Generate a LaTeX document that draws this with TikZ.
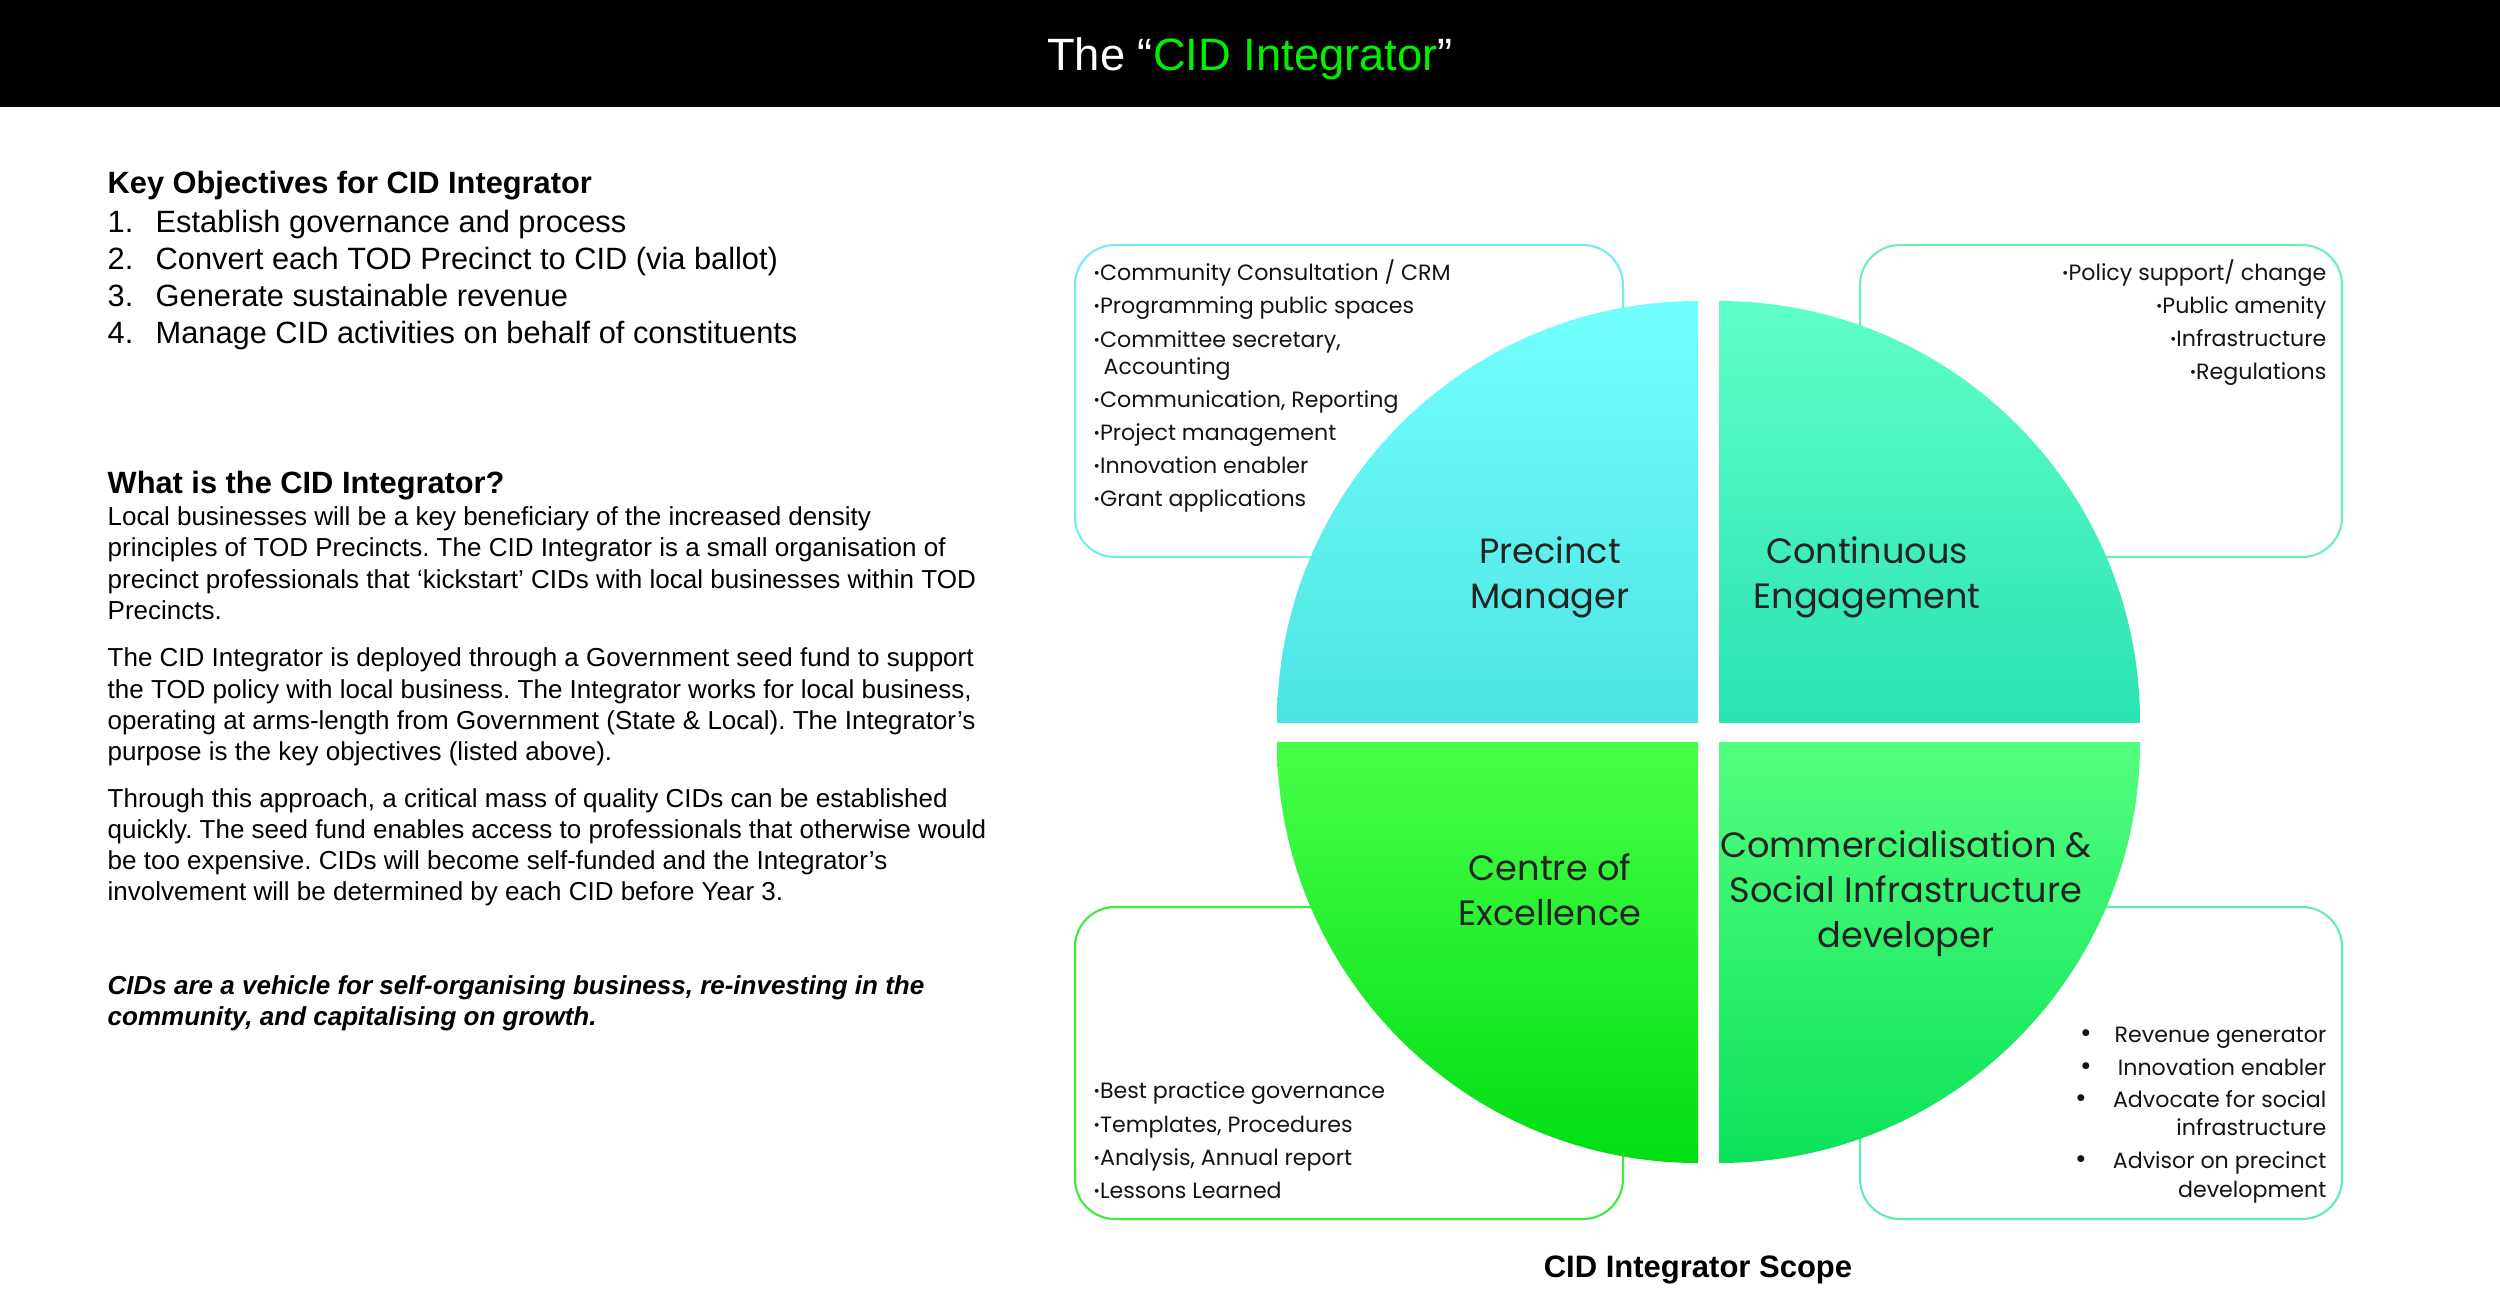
\documentclass[tikz,border=0pt]{standalone}
\usepackage{fontspec}
\setmainfont{Liberation Sans}
\newfontfamily\popp{Poppins}
\definecolor{titlegreen}{RGB}{0,240,0}
\definecolor{tlTop}{RGB}{115,255,255}
\definecolor{tlBot}{RGB}{75,228,224}
\definecolor{trTop}{RGB}{95,255,200}
\definecolor{trBot}{RGB}{42,226,178}
\definecolor{blTop}{RGB}{72,255,72}
\definecolor{blMid}{RGB}{0,242,0}
\definecolor{blBot}{RGB}{0,222,20}
\definecolor{brTop}{RGB}{82,255,125}
\definecolor{brBot}{RGB}{12,225,90}
\definecolor{tlLine}{RGB}{120,235,235}
\definecolor{trLine}{RGB}{110,240,180}
\definecolor{blLine}{RGB}{60,235,60}
\definecolor{brLine}{RGB}{100,235,175}
\definecolor{qtext}{RGB}{35,35,35}
\definecolor{btext}{RGB}{20,20,20}
\newcommand\sbul{\raisebox{0.08em}{\scalebox{0.7}{•}}}
\frenchspacing
\tikzset{
  lefthead/.style={anchor=base west, inner sep=0pt, font=\fontsize{8.76pt}{10pt}\selectfont\bfseries},
  leftlist/.style={anchor=base west, inner sep=0pt, font=\fontsize{8.76pt}{10pt}\selectfont},
  leftpara/.style={anchor=base west, inner sep=0pt, font=\fontsize{7.4pt}{9pt}\selectfont},
  leftital/.style={anchor=base west, inner sep=0pt, font=\fontsize{7.4pt}{9pt}\selectfont\bfseries\itshape},
  qlabel/.style={anchor=base, inner sep=0pt, text=qtext, font=\fontsize{10pt}{12pt}\selectfont\popp},
  boxtxtL/.style={anchor=base west, inner sep=0pt, text=btext, font=\fontsize{6.3pt}{7pt}\selectfont\popp},
  boxtxtR/.style={anchor=base east, inner sep=0pt, text=btext, font=\fontsize{6.3pt}{7pt}\selectfont\popp},
  bigbullet/.style={anchor=base, inner sep=0pt, text=btext, font=\fontsize{8pt}{9pt}\selectfont\popp},
  sidebox/.style={line width=0.6pt, rounded corners=4mm, fill=white},
}
\begin{document}
\begin{tikzpicture}[x=0.1mm,y=-0.1mm]
\useasboundingbox (0,0) rectangle (2500,1306);
\fill[white] (0,0) rectangle (2500,1306);
% header
\fill[black] (0,0) rectangle (2500,107);
\node[anchor=base, inner sep=0pt, text=white, font=\fontsize{12.9pt}{15pt}\selectfont] (title) at (1250,70) {The “\textcolor{titlegreen}{CID Integrator}”};

% left column
\node[lefthead] (h1) at (107,193) {Key Objectives for CID Integrator};
\node[leftlist] (n1) at (107,232) {1.};
\node[leftlist] (l1) at (155,232) {Establish governance and process};
\node[leftlist] (n2) at (107,269) {2.};
\node[leftlist] (l2) at (155,269) {Convert each TOD Precinct to CID (via ballot)};
\node[leftlist] (n3) at (107,306) {3.};
\node[leftlist] (l3) at (155,306) {Generate sustainable revenue};
\node[leftlist] (n4) at (107,343) {4.};
\node[leftlist] (l4) at (155,343) {Manage CID activities on behalf of constituents};

\node[lefthead] (h2) at (107,493) {What is the CID Integrator?};
\node[leftpara] (p11) at (107,525) {Local businesses will be a key beneficiary of the increased density};
\node[leftpara] (p12) at (107,556) {principles of TOD Precincts. The CID Integrator is a small organisation of};
\node[leftpara] (p13) at (107,588) {precinct professionals that ‘kickstart’ CIDs with local businesses within TOD};
\node[leftpara] (p14) at (107,619) {Precincts.};
\node[leftpara] (p21) at (107,666) {The CID Integrator is deployed through a Government seed fund to support};
\node[leftpara] (p22) at (107,698) {the TOD policy with local business. The Integrator works for local business,};
\node[leftpara] (p23) at (107,729) {operating at arms-length from Government (State \& Local). The Integrator’s};
\node[leftpara] (p24) at (107,760) {purpose is the key objectives (listed above).};
\node[leftpara] (p31) at (107,807) {Through this approach, a critical mass of quality CIDs can be established};
\node[leftpara] (p32) at (107,838) {quickly. The seed fund enables access to professionals that otherwise would};
\node[leftpara] (p33) at (107,869) {be too expensive. CIDs will become self-funded and the Integrator’s};
\node[leftpara] (p34) at (107,900) {involvement will be determined by each CID before Year 3.};
\node[leftital] (it1) at (107,994) {CIDs are a vehicle for self-organising business, re-investing in the};
\node[leftital] (it2) at (107,1025) {community, and capitalising on growth.};

% side boxes
\draw[sidebox, draw=tlLine] (1075,245) rectangle (1623,557);
\draw[sidebox, draw=trLine] (1860,245) rectangle (2342,557);
\draw[sidebox, draw=blLine] (1075,907) rectangle (1623,1219);
\draw[sidebox, draw=brLine] (1860,907) rectangle (2342,1219);

% quadrants
\begin{scope}
\clip (1698,722) circle[radius=421];
\shade[top color=tlTop, bottom color=tlBot] (1277,301) rectangle (1698,722);
\end{scope}
\begin{scope}
\clip (1719,722) circle[radius=421];
\shade[top color=trTop, bottom color=trBot] (1719,301) rectangle (2140,722);
\end{scope}
\begin{scope}
\clip (1698,742) circle[radius=421];
\shade[top color=blTop, middle color=blMid, bottom color=blBot] (1277,742) rectangle (1698,1163);
\end{scope}
\begin{scope}
\clip (1719,742) circle[radius=421];
\shade[top color=brTop, bottom color=brBot] (1719,742) rectangle (2140,1163);
\end{scope}

% quadrant labels
\node[qlabel] (q1a) at (1550,563) {Precinct};
\node[qlabel] (q1b) at (1550,608) {Manager};
\node[qlabel] (q2a) at (1867,563) {Continuous};
\node[qlabel] (q2b) at (1867,608) {Engagement};
\node[qlabel] (q3a) at (1550,880) {Centre of};
\node[qlabel] (q3b) at (1550,925) {Excellence};
\node[qlabel] (q4a) at (1906,857) {Commercialisation \&};
\node[qlabel] (q4b) at (1906,902) {Social Infrastructure};
\node[qlabel] (q4c) at (1906,947) {developer};

% TL box text
\node[boxtxtL] (a1) at (1093,280) {\sbul Community Consultation / CRM};
\node[boxtxtL] (a2) at (1093,313) {\sbul Programming public spaces};
\node[boxtxtL] (a3) at (1093,347) {\sbul Committee secretary,};
\node[boxtxtL] (a3b) at (1103,374) {Accounting};
\node[boxtxtL] (a4) at (1093,407) {\sbul Communication, Reporting};
\node[boxtxtL] (a5) at (1093,440) {\sbul Project management};
\node[boxtxtL] (a6) at (1093,473) {\sbul Innovation enabler};
\node[boxtxtL] (a7) at (1093,506) {\sbul Grant applications};

% TR box text
\node[boxtxtR] (b1) at (2327,280) {\sbul Policy support/ change};
\node[boxtxtR] (b2) at (2327,313) {\sbul Public amenity};
\node[boxtxtR] (b3) at (2327,346) {\sbul Infrastructure};
\node[boxtxtR] (b4) at (2327,379) {\sbul Regulations};

% BL box text
\node[boxtxtL] (c1) at (1093,1098) {\sbul Best practice governance};
\node[boxtxtL] (c2) at (1093,1132) {\sbul Templates, Procedures};
\node[boxtxtL] (c3) at (1093,1165) {\sbul Analysis, Annual report};
\node[boxtxtL] (c4) at (1093,1198) {\sbul Lessons Learned};

% BR box text
\node[boxtxtR] (d1) at (2327,1042) {Revenue generator};
\node[boxtxtR] (d2) at (2327,1075) {Innovation enabler};
\node[boxtxtR] (d3) at (2327,1107) {Advocate for social};
\node[boxtxtR] (d3b) at (2327,1135) {infrastructure};
\node[boxtxtR] (d4) at (2327,1168) {Advisor on precinct};
\node[boxtxtR] (d4b) at (2327,1197) {development};
\node[bigbullet] (e1) at (2086,1042) {•};
\node[bigbullet] (e2) at (2086,1075) {•};
\node[bigbullet] (e3) at (2081,1107) {•};
\node[bigbullet] (e4) at (2081,1168) {•};

% caption
\node[anchor=base, inner sep=0pt, font=\fontsize{8.82pt}{10pt}\selectfont\bfseries] (scope) at (1698,1277) {CID Integrator Scope};
\end{tikzpicture}
\end{document}
